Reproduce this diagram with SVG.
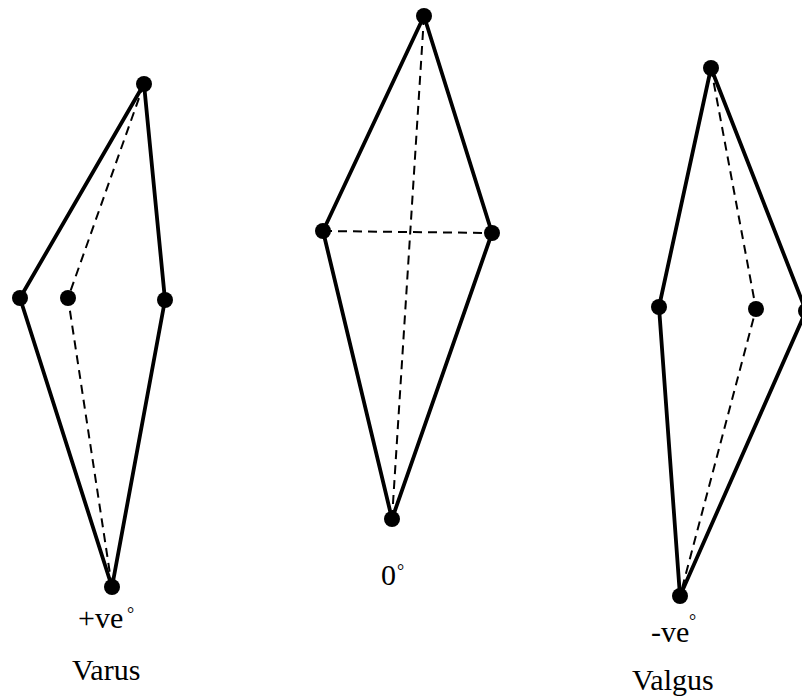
<svg xmlns="http://www.w3.org/2000/svg" width="802" height="698" viewBox="0 0 802 698">
<style>
.s{fill:none;stroke:#000;stroke-width:3.8;stroke-linejoin:round}
.d{fill:none;stroke:#000;stroke-width:2;stroke-dasharray:9,6}
.p{fill:#000}
.t{font-family:"Liberation Serif",serif;font-size:30px;fill:#000}
.g{font-family:"Liberation Serif",serif;font-size:18px;fill:#000}
</style>
<rect width="802" height="698" fill="#fff"/>
<g id="connectors">
<polygon class="s" points="144,84 20,298 112,587 165,300"/>
<polyline class="d" points="144,84 68,298 112,587"/>
<polygon class="s" points="424,16 323,231 392,519 492,233"/>
<line class="d" x1="424" y1="16" x2="392" y2="519"/>
<line class="d" x1="323" y1="231" x2="492" y2="233"/>
<polygon class="s" points="711,68 659,307 680,596 806,311"/>
<polyline class="d" points="711,68 756,309 680,596"/>
</g>
<g id="varus">
<circle class="p" cx="144" cy="84" r="8"/>
<circle class="p" cx="20" cy="298" r="8"/>
<circle class="p" cx="68" cy="298" r="8"/>
<circle class="p" cx="165" cy="300" r="8"/>
<circle class="p" cx="112" cy="587" r="8"/>
<text class="t" x="78" y="628">+ve</text><text class="g" x="127" y="620">°</text>
<text class="t" x="72" y="680">Varus</text>
</g>
<g id="neutral">
<circle class="p" cx="424" cy="16" r="8"/>
<circle class="p" cx="323" cy="231" r="8"/>
<circle class="p" cx="492" cy="233" r="8"/>
<circle class="p" cx="392" cy="519" r="8"/>
<text class="t" x="381" y="585">0</text><text class="g" x="397" y="577">°</text>
</g>
<g id="valgus">
<circle class="p" cx="711" cy="68" r="8"/>
<circle class="p" cx="659" cy="307" r="8"/>
<circle class="p" cx="756" cy="309" r="8"/>
<circle class="p" cx="806" cy="311" r="8"/>
<circle class="p" cx="680" cy="596" r="8"/>
<text class="t" x="651" y="642">-ve</text><text class="g" x="689" y="627">°</text>
<text class="t" x="632" y="690">Valgus</text>
</g>
</svg>
